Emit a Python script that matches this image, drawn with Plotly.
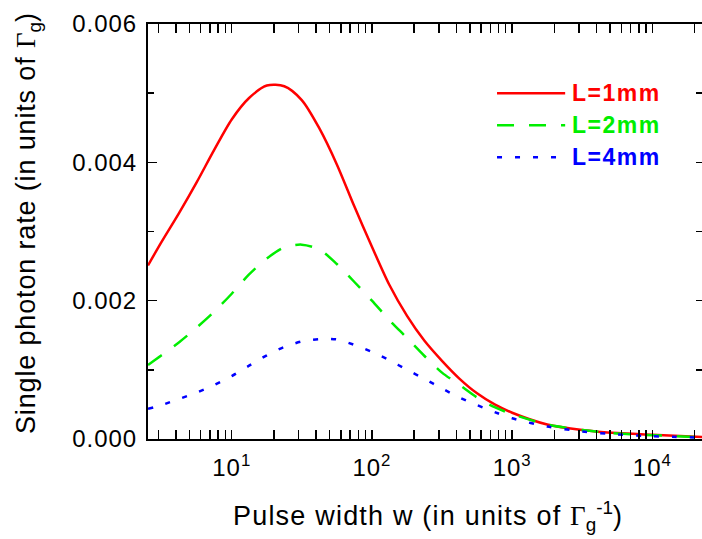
import plotly.graph_objects as go

# ---- data (pulse width w in units of 1/Gamma_g, rate in units of Gamma_g) ----
w_grid = [2.53, 3.16, 4.22, 5.62, 7.50, 10.0, 13.3, 17.8, 23.7, 31.6, 42.2, 56.2, 75.0, 100,
          133, 178, 237, 316, 422, 562, 750, 1000, 1778, 3162, 5623, 10000, 22600]
r_L1 = [2.51e-3, 2.85e-3, 3.27e-3, 3.71e-3, 4.18e-3, 4.62e-3, 4.93e-3, 5.11e-3, 5.10e-3, 4.90e-3, 4.49e-3, 3.97e-3, 3.36e-3, 2.78e-3,
        2.23e-3, 1.78e-3, 1.42e-3, 1.13e-3, 0.87e-3, 0.66e-3, 0.50e-3, 0.38e-3, 0.21e-3, 0.13e-3, 0.085e-3, 0.063e-3, 0.03e-3]
r_L2 = [1.07e-3, 1.21e-3, 1.40e-3, 1.61e-3, 1.84e-3, 2.10e-3, 2.38e-3, 2.61e-3, 2.77e-3, 2.81e-3, 2.74e-3, 2.53e-3, 2.27e-3, 2.00e-3,
        1.72e-3, 1.46e-3, 1.20e-3, 0.96e-3, 0.78e-3, 0.60e-3, 0.46e-3, 0.36e-3, 0.21e-3, 0.13e-3, 0.08e-3, 0.055e-3, 0.025e-3]
r_L4 = [0.435e-3, 0.49e-3, 0.58e-3, 0.67e-3, 0.78e-3, 0.91e-3, 1.06e-3, 1.21e-3, 1.33e-3, 1.41e-3, 1.445e-3, 1.44e-3, 1.36e-3, 1.26e-3,
        1.14e-3, 1.00e-3, 0.87e-3, 0.73e-3, 0.60e-3, 0.49e-3, 0.39e-3, 0.30e-3, 0.18e-3, 0.11e-3, 0.065e-3, 0.04e-3, 0.02e-3]

series_names = ["L=1mm", "L=2mm", "L=4mm"]
series_colors = ["#ff0000", "#00ee00", "#0000ff"]
series_dash = ["solid", "17px,15px", "5px,13px"]

x_tickvals = [10, 100, 1000, 10000]
x_ticktext = ["10<sup>1</sup>", "10<sup>2</sup>", "10<sup>3</sup>", "10<sup>4</sup>"]
x_minor = [m * 10 ** e for e in range(0, 5) for m in range(2, 10)]
y_tickvals = [0.0, 0.002, 0.004, 0.006]
y_ticktext = ["0.000", "0.002", "0.004", "0.006"]
y_minor = [0.001, 0.003, 0.005]

X_RANGE = [0.403, 4.354]
Y_RANGE = [0.0, 0.006]

FONT = "Liberation Sans, Arial, Helvetica, sans-serif"
SERIF = "Liberation Serif, Times New Roman, serif"


def spaced(t, px):
    return '<span style="letter-spacing:%spx">%s</span>' % (px, t)


fig = go.Figure()
for r, c, d in zip([r_L1, r_L2, r_L4], series_colors, series_dash):
    fig.add_trace(go.Scatter(x=w_grid, y=r, mode="lines",
                             line=dict(color=c, width=2.5, dash=d, shape="spline", smoothing=0.8),
                             showlegend=False, hoverinfo="skip"))

# invisible trace for the right-hand tick axis
fig.add_trace(go.Scatter(x=[w_grid[0]], y=[r_L1[0]], yaxis="y2", mode="markers", marker=dict(opacity=0),
                         showlegend=False, hoverinfo="skip"))

# manual legend
leg_y = [0.833, 0.756, 0.679]
for name, c, d, ly in zip(series_names, series_colors, series_dash, leg_y):
    fig.add_shape(type="line", xref="paper", yref="paper", x0=0.630, x1=0.753, y0=ly, y1=ly,
                  line=dict(color=c, width=2.5, dash=d))
    fig.add_annotation(xref="paper", yref="paper", x=0.762, y=ly, xanchor="left", yanchor="middle",
                       text="<b>%s</b>" % spaced(name, 1.5), showarrow=False,
                       font=dict(family=FONT, size=23, color=c))

fig.add_annotation(xref="paper", yref="paper", x=0.505, y=-0.186, xanchor="center", yanchor="middle",
                   text=spaced("Pulse width w (in units of ", 1.2)
                   + "<span style=\"font-family:%s\">Γ</span><sub>g</sub><sup>-1</sup>)" % SERIF,
                   showarrow=False, font=dict(family=FONT, size=27, color="black"))
fig.add_annotation(xref="paper", yref="paper", x=-0.2166, y=0.518, xanchor="center", yanchor="middle", textangle=-90,
                   text=spaced("Single photon rate (in units of ", 0.85)
                   + "<span style=\"font-family:%s\">Γ</span><sub>g</sub>)" % SERIF,
                   showarrow=False, font=dict(family=FONT, size=27, color="black"))

fig.update_layout(
    width=702, height=539,
    margin=dict(l=148, r=0, t=23.5, b=99.5, autoexpand=False),
    paper_bgcolor="white", plot_bgcolor="white",
    font=dict(family=FONT, size=24, color="black"),
    showlegend=False,
    xaxis=dict(type="log", range=X_RANGE, showgrid=False, zeroline=False,
               showline=True, linecolor="black", linewidth=2, mirror="allticks",
               ticks="inside", ticklen=9, tickwidth=1.5, tickcolor="black",
               tickmode="array", tickvals=x_tickvals, ticktext=[spaced(t, 1) for t in x_ticktext],
               tickfont=dict(family=FONT, size=24), automargin=False, ticklabelstandoff=6,
               minor=dict(tickmode="array", tickvals=x_minor, ticks="inside", ticklen=5,
                          tickwidth=1.5, tickcolor="black", showgrid=False)),
    yaxis=dict(range=Y_RANGE, showgrid=False, zeroline=False,
               showline=True, linecolor="black", linewidth=2,
               ticks="inside", ticklen=9, tickwidth=1.5, tickcolor="black",
               tickmode="array", tickvals=y_tickvals, ticktext=[spaced(t, 1) for t in y_ticktext],
               tickfont=dict(family=FONT, size=24), automargin=False, ticklabelstandoff=4,
               minor=dict(tickmode="array", tickvals=y_minor, ticks="inside", ticklen=6,
                          tickwidth=1.5, tickcolor="black", showgrid=False)),
    yaxis2=dict(range=Y_RANGE, overlaying="y", side="right", showgrid=False, zeroline=False,
                showline=False, showticklabels=False, automargin=False,
                ticks="inside", ticklen=6, tickwidth=1.5, tickcolor="black",
                tickmode="array", tickvals=y_minor + y_tickvals),
)

fig.write_html("out.html", config={"displayModeBar": False, "staticPlot": True},
               post_script="document.body.style.margin='0';document.body.style.overflow='hidden';")
